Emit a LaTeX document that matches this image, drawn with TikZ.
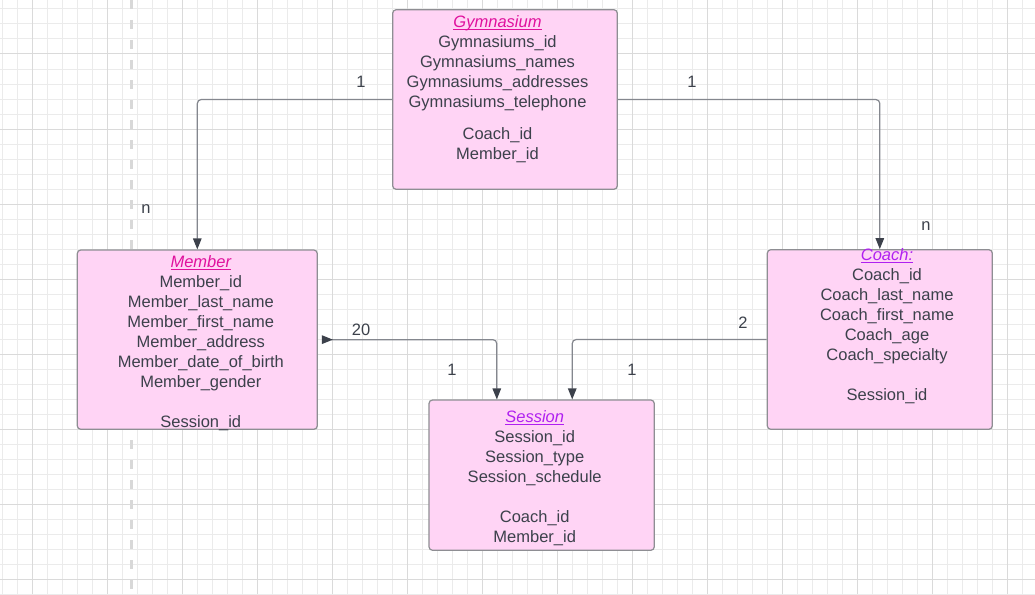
\documentclass[tikz,border=0pt]{standalone}
\usepackage{fontspec}
\setmainfont{Liberation Sans}
\usetikzlibrary{arrows.meta,calc}
\definecolor{gridminor}{HTML}{EBEBEB}
\definecolor{gridmajor}{HTML}{DADADA}
\definecolor{boxfill}{HTML}{FFD4F5}
\definecolor{boxline}{HTML}{8E8E93}
\definecolor{txt}{HTML}{3C414B}
\definecolor{titleA}{HTML}{E0119D}
\definecolor{titleB}{HTML}{B020F0}
\definecolor{connc}{HTML}{84878E}
\definecolor{tipc}{HTML}{3C414B}
\definecolor{dashc}{HTML}{D8D8D8}
\newcommand\myul[1]{\setbox0\hbox{#1}\rlap{\rule[-2.3pt]{\wd0}{0.9pt}}\box0}
\newcommand\ttlA[1]{{\color{titleA}\myul{\itshape #1}}}
\newcommand\ttlB[1]{{\color{titleB}\myul{\itshape #1}}}
\begin{document}
\begin{tikzpicture}[x=1pt,y=-1pt,
  ent/.style={draw=boxline, fill=boxfill, line width=1.2pt, rounded corners=3.5pt, inner sep=0pt},
  etext/.style={anchor=north, align=center, inner sep=0pt, text=txt, font=\fontsize{16.5}{20}\selectfont},
  lbl/.style={text=txt, font=\fontsize{16.5}{20}\selectfont, inner sep=0pt},
  conn/.style={draw=connc, line width=1.2pt, rounded corners=4pt, -{Triangle[length=11pt,width=8.5pt,color=tipc]}},
  gridmin/.style={draw=gridminor, line width=1pt},
  gridmaj/.style={draw=gridmajor, line width=1pt}
]
\useasboundingbox (0,0) rectangle (1035,594);
\fill[white] (0,0) rectangle (1035,594);
% grid
\foreach \x in {2.5,17.5,...,1035} \draw[gridmin] (\x,0) -- (\x,594);
\foreach \y in {9,24,...,594} \draw[gridmin] (0,\y) -- (1035,\y);
\foreach \x in {32.5,107.5,...,1035} \draw[gridmaj] (\x,0) -- (\x,594);
\foreach \y in {54,129,...,594} \draw[gridmaj] (0,\y) -- (1035,\y);
% dashed guide
\draw[dashc, line width=3pt, dash pattern=on 9pt off 11pt] (131.5,0) -- (131.5,594);

% boxes
\node[ent, minimum width=224.6pt, minimum height=179.6pt] (gym) at (505,99.5) {};
\node[ent, minimum width=240pt, minimum height=179.3pt] (mem) at (197.3,339.65) {};
\node[ent, minimum width=225pt, minimum height=179.6pt] (coach) at (879.8,339.5) {};
\node[ent, minimum width=225.3pt, minimum height=150.3pt] (ses) at (541.65,475.15) {};

% texts
\node[etext] (gymT) at (497.5,13) {\strut\ttlA{Gymnasium}\\Gymnasiums\_id\\Gymnasiums\_names\\Gymnasiums\_addresses\\Gymnasiums\_telephone\\[12.5pt]Coach\_id\\Member\_id};
\node[etext] (memT) at (200.8,253.2) {\strut\ttlA{Member}\\Member\_id\\Member\_last\_name\\Member\_first\_name\\Member\_address\\Member\_date\_of\_birth\\Member\_gender\\[20pt]Session\_id};
\node[etext] (coachT) at (887,246) {\strut\ttlB{Coach:}\\Coach\_id\\Coach\_last\_name\\Coach\_first\_name\\Coach\_age\\Coach\_specialty\\[20pt]Session\_id};
\node[etext] (sesT) at (534.7,408) {\strut\ttlB{Session}\\Session\_id\\Session\_type\\Session\_schedule\\[20pt]Coach\_id\\Member\_id};

% connectors
\coordinate (sesA) at ($(ses.north west)!0.302!(ses.north east)$);
\coordinate (sesB) at ($(ses.north west)!0.635!(ses.north east)$);
\draw[conn] (gym.west) -| (mem.north);
\draw[conn] (gym.east) -| (coach.north);
\draw[conn, {Triangle[reversed,sep=4pt,length=11pt,width=8.5pt,color=tipc]}-{Triangle[length=11pt,width=8.5pt,color=tipc]}] (mem.east) -| (sesA);
\draw[conn] (coach.west) -| (sesB);

% labels
\node[lbl] (l1) at (361,82) {1};
\node[lbl] (l2) at (692,82) {1};
\node[lbl] (l3) at (146,209) {n};
\node[lbl] (l4) at (926,226) {n};
\node[lbl] (l5) at (361,330) {20};
\node[lbl] (l6) at (452,370) {1};
\node[lbl] (l7) at (743,323) {2};
\node[lbl] (l8) at (632,370) {1};
\end{tikzpicture}
\end{document}
